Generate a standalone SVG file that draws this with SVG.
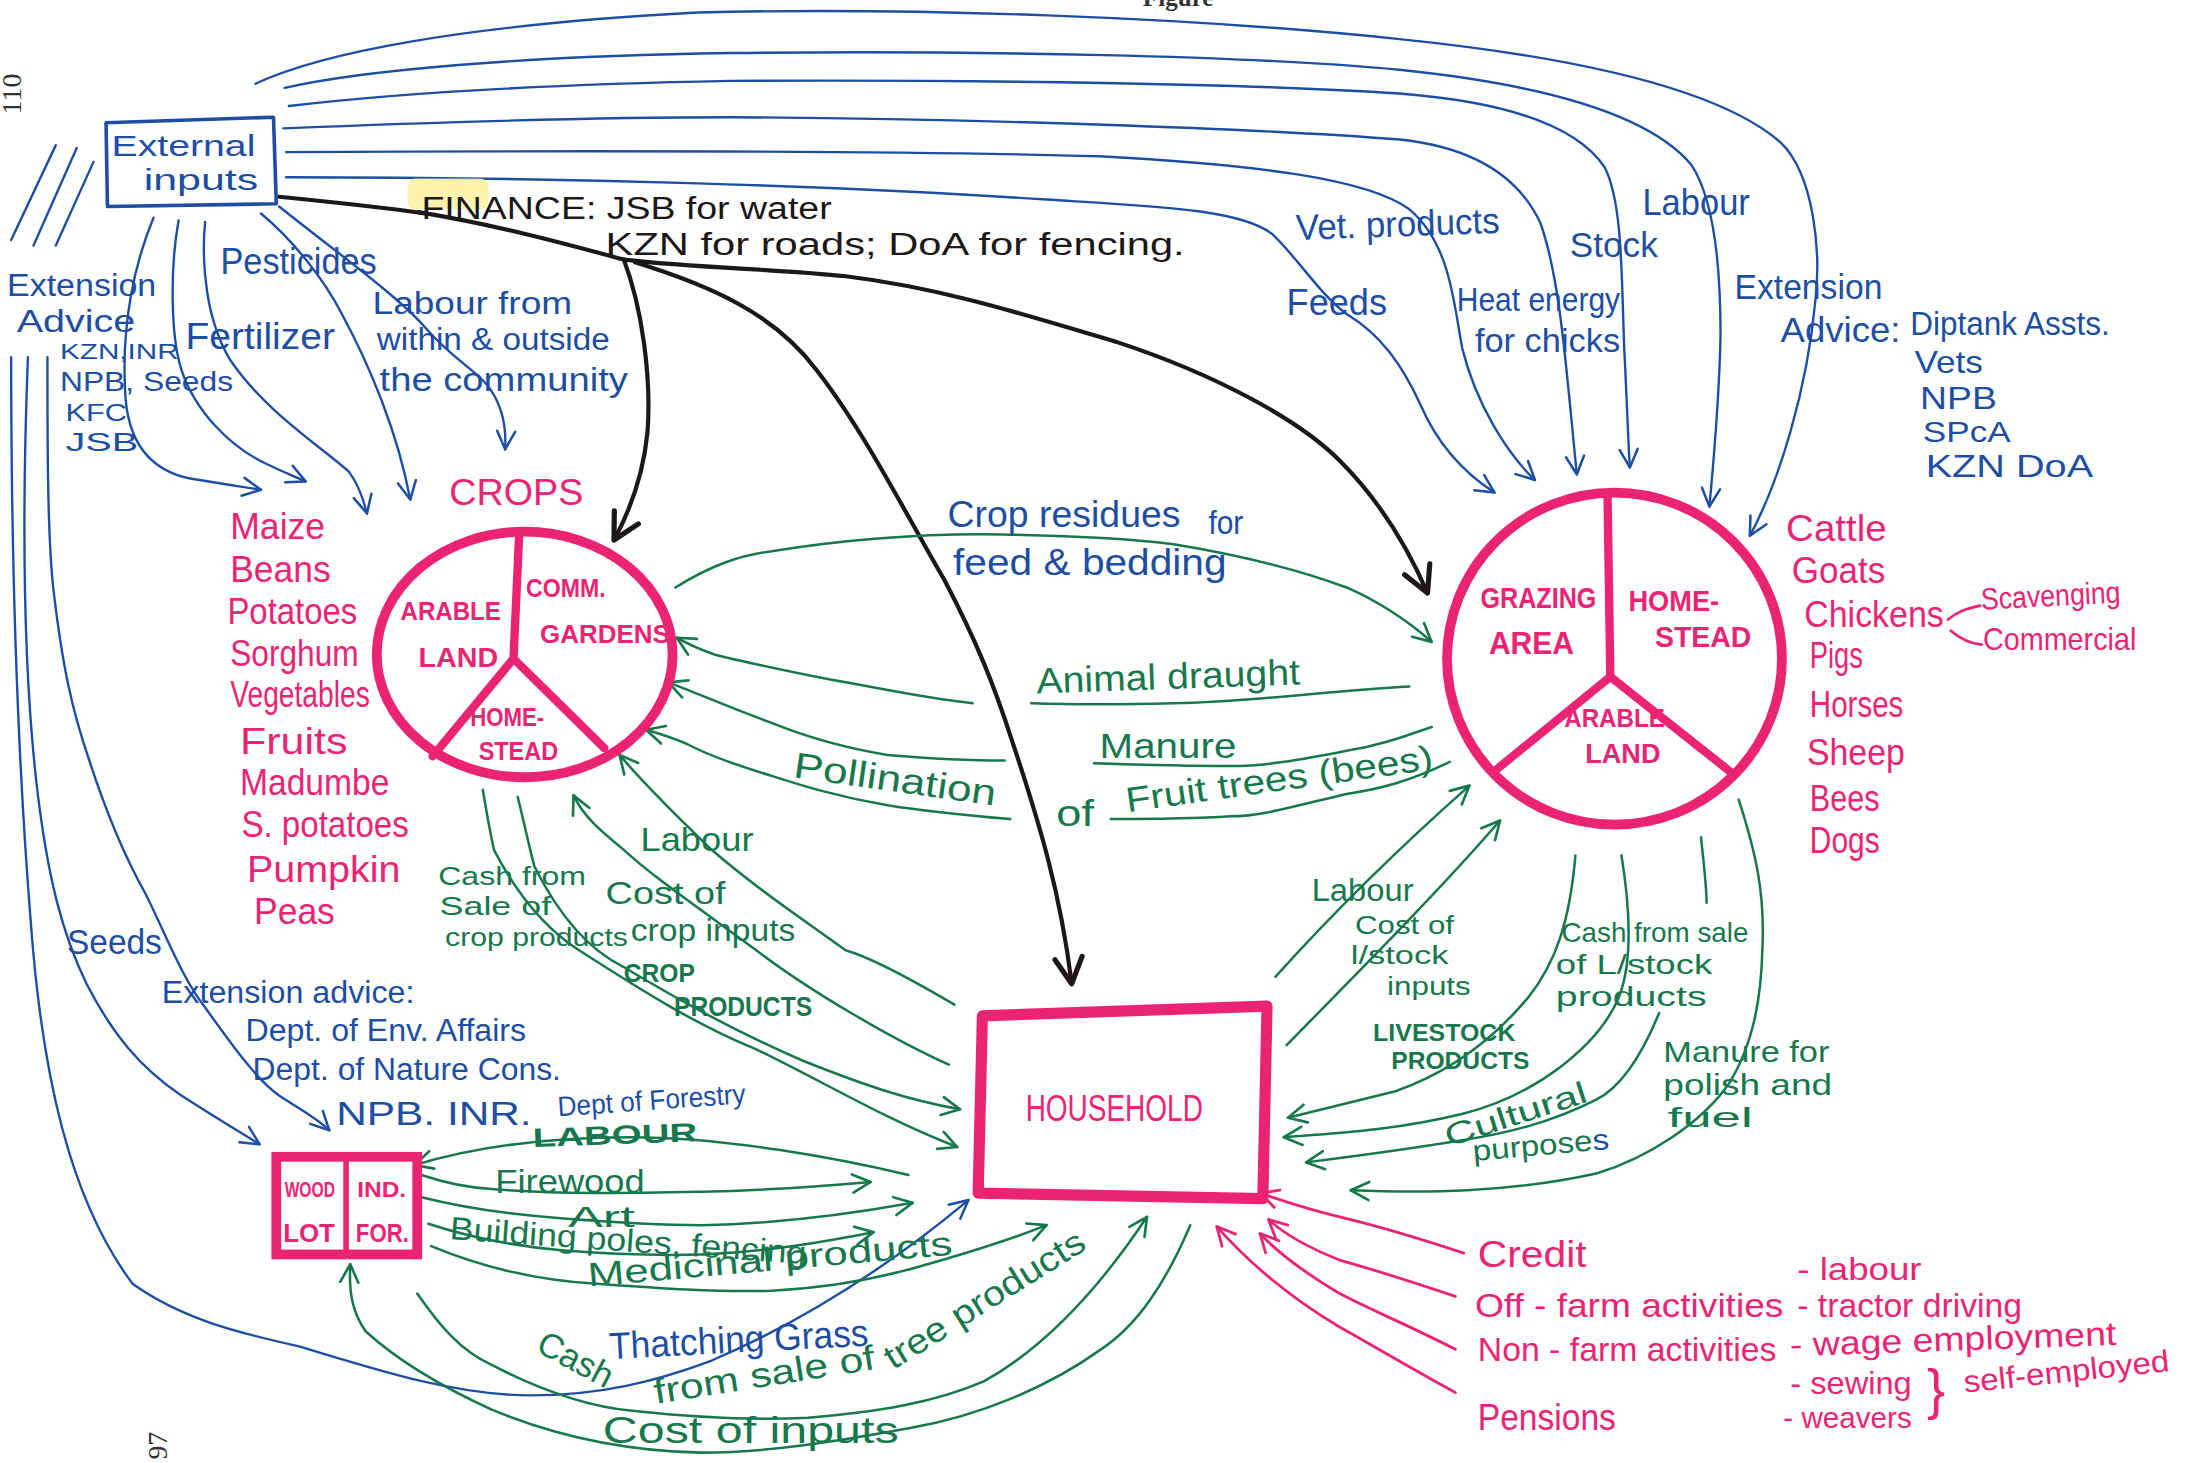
<svg xmlns="http://www.w3.org/2000/svg" width="2188" height="1463" viewBox="0 0 2188 1463">
<defs>
<style>
.cb,.cg,.ck,.cp{fill:none;stroke-linecap:round;stroke-linejoin:round}
.cb{stroke:#1d4ea3;stroke-width:1.7}
.cg{stroke:#17774d;stroke-width:1.8}
.ck{stroke:#1c1818;stroke-width:3}
.cp{stroke:#ea2473;stroke-width:2}
.ring{fill:none;stroke:#ea2473;stroke-width:7}
.spoke{stroke:#ea2473;stroke-width:6;stroke-linecap:round;fill:none}
text{font-family:"Liberation Sans",Arial,sans-serif}
.tb{fill:#1d4ea3}
.tg{fill:#17774d}
.tp{fill:#ea2473}
.tk{fill:#1c1818}
.bold{font-weight:bold}
.pg{font-family:"Liberation Serif","Times New Roman",serif;fill:#333}
</style>
<marker id="ab" viewBox="0 0 16 16" refX="14" refY="8" markerWidth="16" markerHeight="16" markerUnits="userSpaceOnUse" orient="auto"><path d="M1,1.5 L14,8 L1,14.5" fill="none" stroke="#1d4ea3" stroke-width="1.8" stroke-linecap="round" stroke-linejoin="round"/></marker>
<marker id="ag" viewBox="0 0 16 16" refX="14" refY="8" markerWidth="16" markerHeight="16" markerUnits="userSpaceOnUse" orient="auto"><path d="M1,1.5 L14,8 L1,14.5" fill="none" stroke="#17774d" stroke-width="1.9" stroke-linecap="round" stroke-linejoin="round"/></marker>
<marker id="ap" viewBox="0 0 16 16" refX="14" refY="8" markerWidth="16" markerHeight="16" markerUnits="userSpaceOnUse" orient="auto"><path d="M1,1.5 L14,8 L1,14.5" fill="none" stroke="#ea2473" stroke-width="2" stroke-linecap="round" stroke-linejoin="round"/></marker>
<marker id="ak" viewBox="0 0 22 22" refX="19" refY="11" markerWidth="24" markerHeight="24" markerUnits="userSpaceOnUse" orient="auto"><path d="M2,2 L19,11 L2,20" fill="none" stroke="#1c1818" stroke-width="3.4" stroke-linecap="round" stroke-linejoin="round"/></marker>
</defs>
<rect width="2188" height="1463" fill="#ffffff"/>
<g transform="scale(1.39541)" font-size="24">

<!-- page furniture -->
<text class="pg bold" x="819" y="4" font-size="18">Figure</text>
<text class="pg" transform="translate(15,82) rotate(-90)" font-size="20">110</text>
<text class="pg" transform="translate(120,1046) rotate(-90)" font-size="20">97</text>

<!-- ===== connectors ===== -->
<g id="connectors">
  <!-- external inputs to livestock (over the top) -->
  <path class="cb" marker-end="url(#ab)" d="M183,60 C230,38 330,18 500,9 C650,5 850,12 1003,28 C1120,40 1230,62 1276,102 C1300,125 1305,180 1301,215 C1295,280 1275,345 1254,384"/>
  <path class="cb" marker-end="url(#ab)" d="M204,63 C260,50 380,40 523,38 C700,36 900,40 1003,50 C1100,60 1180,80 1212,118 C1230,145 1233,200 1233,240 C1232,290 1228,330 1225,363"/>
  <path class="cb" marker-end="url(#ab)" d="M207,76 C300,65 420,60 523,58 C700,57 900,60 1003,67 C1080,73 1130,90 1150,120 C1163,145 1162,200 1164,250 C1166,290 1167,320 1168,335"/>
  <path class="cb" marker-end="url(#ab)" d="M203,92 C350,86 450,84 523,84 C700,85 900,92 1003,100 C1060,106 1090,130 1104,160 C1118,200 1122,260 1130,340"/>
  <path class="cb" marker-end="url(#ab)" d="M205,109 C400,108 650,108 788,112 C900,118 980,128 1010,150 C1040,175 1042,220 1048,250 C1058,290 1080,325 1100,344"/>
  <path class="cb" marker-end="url(#ab)" d="M205,127 C400,127 600,133 750,143 C830,148 890,150 912,168 C930,185 945,210 965,225 C990,240 1005,262 1018,290 C1030,318 1048,338 1071,353"/>

  <!-- external inputs to crops -->
  <path class="cb" marker-end="url(#ab)" d="M110,156 C98,185 86,230 90,286 C93,320 110,340 143,344 C160,347 175,349 187,351"/>
  <path class="cb" marker-end="url(#ab)" d="M128,158 C122,190 122,240 130,265 C140,295 165,320 190,332 C200,337 210,341 219,345"/>
  <path class="cb" marker-end="url(#ab)" d="M147,159 C144,190 148,230 165,258 C190,295 230,320 250,338 C256,346 260,356 263,368"/>
  <path class="cb" marker-end="url(#ab)" d="M187,153 C210,172 232,200 245,225 C265,262 285,310 294,358"/>
  <path class="cb" marker-end="url(#ab)" d="M200,148 C240,180 285,212 305,235 C325,258 345,268 352,280 C360,292 363,305 362,322"/>

  <!-- external inputs down the left side -->
  <path class="cb" d="M8,172 L40,104 M24,176 L55,106 M40,176 L67,116"/>
  <path class="cb" marker-end="url(#ab)" d="M8,256 C8,420 14,560 22,660 C30,770 50,860 95,920 C130,945 170,955 215,965 C280,985 330,1000 380,1000 C430,1000 470,990 510,975 C580,945 640,905 694,860"/>
  <path class="cb" marker-end="url(#ab)" d="M20,256 C16,360 16,470 26,560 C34,630 45,670 62,705 C80,740 100,765 130,785 C150,798 170,810 186,820"/>
  <path class="cb" marker-end="url(#ab)" d="M34,256 C34,320 34,380 38,420 C45,480 52,510 64,545 C77,585 90,615 104,640 C120,672 130,700 147,722 C167,750 185,775 200,785 C215,795 228,802 236,810"/>

  <!-- finance (black) -->
  <rect x="292" y="128" width="58" height="22" rx="6" fill="#fbf1a0" opacity="0.85"/>
  <path class="ck" stroke-width="6" d="M200,141 C240,145 270,148 305,153"/>
  <path class="ck" d="M300,152 C360,162 410,176 447,186"/>
  <path class="ck" marker-end="url(#ak)" d="M447,186 C500,192 560,193 606,198 C680,207 745,229 800,245 C870,268 930,300 960,330 C990,360 1010,395 1023,425"/>
  <path class="ck" marker-end="url(#ak)" d="M447,186 C460,220 467,270 464,310 C461,340 452,365 440,387"/>
  <path class="ck" marker-end="url(#ak)" d="M455,188 C510,205 555,225 585,265 C620,310 650,370 677,416 C700,460 712,490 725,530 C745,590 760,640 768,705"/>

  <!-- crops <-> livestock -->
  <path class="cg" marker-end="url(#ag)" d="M484,421 C510,405 530,398 553,395 C610,386 660,382 718,383 C770,384 810,386 841,390 C890,398 930,408 965,421 C990,432 1010,446 1026,460"/>
  <path class="cg" d="M1010,492 C950,495 900,503 841,504 C800,505 770,505 739,504"/>
  <path class="cg" marker-end="url(#ag)" d="M697,504 C660,500 630,493 595,487 C560,480 535,475 512,469 C500,465 492,461 485,457"/>
  <path class="cg" d="M1026,521 C1000,530 985,535 965,538 C930,545 905,549 882,549 C850,549 815,548 784,547"/>
  <path class="cg" marker-end="url(#ag)" d="M720,545 C690,545 660,543 636,541 C600,535 575,527 553,518 C525,508 500,497 479,489"/>
  <path class="cg" d="M1039,546 C1010,560 990,565 965,569 C930,577 905,585 882,585 C850,587 820,587 796,587"/>
  <path class="cg" marker-end="url(#ag)" d="M724,587 C690,584 660,581 636,577 C600,571 575,563 553,556 C520,546 505,540 492,533 C480,528 470,525 463,523"/>

  <!-- crops <-> household -->
  <path class="cg" marker-end="url(#ag)" d="M684,720 C650,700 620,685 606,681 C570,655 540,635 510,609 C485,585 460,560 444,541"/>
  <path class="cg" marker-end="url(#ag)" d="M680,763 C640,745 580,710 542,681 C500,650 470,630 447,609 C430,595 418,585 411,570"/>
  <path class="cg" marker-end="url(#ag)" d="M371,571 C378,600 380,610 383,621 C400,655 420,680 447,693 C500,725 540,745 575,760 C620,778 650,788 688,795"/>
  <path class="cg" marker-end="url(#ag)" d="M346,566 C350,590 352,600 354,609 C370,640 390,665 415,681 C460,710 500,735 542,752 C590,775 630,800 686,822"/>

  <!-- livestock <-> household -->
  <path class="cg" marker-end="url(#ag)" d="M914,700 C950,660 1000,610 1053,563"/>
  <path class="cg" marker-end="url(#ag)" d="M922,749 C970,700 1030,640 1075,588"/>
  <path class="cg" marker-end="url(#ag)" d="M1129,613 C1125,660 1115,690 1095,715 C1070,745 1040,768 1000,782 C960,792 940,797 923,801"/>
  <path class="cg" marker-end="url(#ag)" d="M1162,613 C1168,650 1170,690 1160,715 C1145,750 1100,785 1049,798 C1000,810 960,812 920,815"/>
  <path class="cg" d="M1219,600 C1221,620 1223,635 1223,647"/>
  <path class="cg" marker-end="url(#ag)" d="M1189,726 C1175,760 1160,780 1144,788 C1110,805 1080,812 1049,817 C1000,825 960,830 936,833"/>
  <path class="cg" marker-end="url(#ag)" d="M1246,573 C1258,610 1265,640 1263,680 C1262,720 1255,750 1240,775 C1220,805 1180,830 1144,841 C1080,855 1020,855 968,853"/>

  <!-- woodlot <-> household -->
  <path class="cg" marker-end="url(#ag)" d="M651,842 C600,830 520,815 452,815 C390,815 340,822 297,835"/>
  <path class="cg" marker-end="url(#ag)" d="M302,842 C320,848 335,851 352,852 C400,856 450,855 503,854 C550,853 590,850 624,847"/>
  <path class="cg" marker-end="url(#ag)" d="M302,858 C330,865 360,870 402,873 C440,876 470,878 503,878 C560,877 610,870 654,862"/>
  <path class="cg" marker-end="url(#ag)" d="M307,877 C340,888 370,893 402,896 C440,899 470,900 503,899 C550,897 590,890 626,883"/>
  <path class="cg" marker-end="url(#ag)" d="M309,893 C350,910 390,918 428,920 C470,923 510,926 553,925 C590,923 625,917 654,909 C690,899 720,890 750,878"/>
  <path class="cg" marker-end="url(#ag)" d="M299,927 C315,950 330,968 352,978 C385,995 420,1008 453,1011 C500,1016 540,1018 579,1016 C630,1012 670,1005 705,990 C750,965 790,920 822,872"/>
  <path class="cg" marker-end="url(#ag)" d="M853,878 C835,920 815,950 789,967 C750,995 700,1015 654,1023 C600,1033 550,1041 503,1041 C450,1040 400,1030 352,1010 C315,993 285,975 262,954 C252,940 250,925 251,906"/>

  <!-- off-farm income to household -->
  <path class="cp" marker-end="url(#ap)" d="M1049,898 C1010,885 985,878 960,872 C935,866 918,860 903,855"/>
  <path class="cp" marker-end="url(#ap)" d="M1043,929 C1010,918 985,910 960,903 C935,893 920,884 909,874"/>
  <path class="cp" marker-end="url(#ap)" d="M1043,967 C1010,950 985,940 960,927 C935,912 915,897 903,884"/>
  <path class="cp" marker-end="url(#ap)" d="M1043,998 C1010,980 985,965 960,951 C925,930 895,905 872,879"/>

  <!-- chickens brace -->
  <path class="cp" d="M1396,444 C1403,438 1410,436 1419,434 M1398,452 C1405,458 1411,461 1420,462"/>
</g>

<!-- ===== nodes ===== -->
<g id="external-inputs">
  <path d="M76,88 L196,84 L198,146 L77,148 Z" fill="none" stroke="#1d4ea3" stroke-width="2.6" stroke-linejoin="round"/>
  <text class="tb" x="80" y="112" font-size="21" textLength="103" lengthAdjust="spacingAndGlyphs">External</text>
  <text class="tb" x="103" y="136" font-size="21" textLength="82" lengthAdjust="spacingAndGlyphs">inputs</text>
</g>

<g id="crops">
  <text class="tp" x="322" y="362" font-size="27" textLength="96" lengthAdjust="spacingAndGlyphs">CROPS</text>
  <ellipse class="ring" cx="376" cy="469" rx="106" ry="88"/>
  <path class="spoke" d="M372,384 L368,472 M368,472 L310,542 M368,472 L433,536"/>
  <g class="tp bold">
    <text x="287" y="444" font-size="19" textLength="72" lengthAdjust="spacingAndGlyphs">ARABLE</text>
    <text x="300" y="478" font-size="20" textLength="57" lengthAdjust="spacingAndGlyphs">LAND</text>
    <text x="377" y="428" font-size="19" textLength="57" lengthAdjust="spacingAndGlyphs">COMM.</text>
    <text x="387" y="461" font-size="19" textLength="93" lengthAdjust="spacingAndGlyphs">GARDENS</text>
    <text x="337" y="520" font-size="18" textLength="53" lengthAdjust="spacingAndGlyphs">HOME-</text>
    <text x="343" y="545" font-size="18" textLength="57" lengthAdjust="spacingAndGlyphs">STEAD</text>
  </g>
  <g class="tp" font-size="26">
    <text x="165" y="386" textLength="68" lengthAdjust="spacingAndGlyphs">Maize</text>
    <text x="165" y="417" textLength="72" lengthAdjust="spacingAndGlyphs">Beans</text>
    <text x="163" y="447" textLength="93" lengthAdjust="spacingAndGlyphs">Potatoes</text>
    <text x="165" y="477" textLength="92" lengthAdjust="spacingAndGlyphs">Sorghum</text>
    <text x="165" y="507" textLength="100" lengthAdjust="spacingAndGlyphs">Vegetables</text>
    <text x="172" y="540" textLength="77" lengthAdjust="spacingAndGlyphs">Fruits</text>
    <text x="172" y="570" textLength="107" lengthAdjust="spacingAndGlyphs">Madumbe</text>
    <text x="173" y="600" textLength="120" lengthAdjust="spacingAndGlyphs">S. potatoes</text>
    <text x="177" y="632" textLength="110" lengthAdjust="spacingAndGlyphs">Pumpkin</text>
    <text x="182" y="662" textLength="58" lengthAdjust="spacingAndGlyphs">Peas</text>
  </g>
</g>

<g id="livestock">
  <ellipse class="ring" cx="1157" cy="472" rx="120" ry="119"/>
  <path class="spoke" d="M1152,354 L1154,485 M1154,485 L1073,551 M1154,485 L1240,553"/>
  <g class="tp bold">
    <text x="1061" y="436" font-size="21" textLength="83" lengthAdjust="spacingAndGlyphs">GRAZING</text>
    <text x="1067" y="469" font-size="22" textLength="61" lengthAdjust="spacingAndGlyphs">AREA</text>
    <text x="1167" y="438" font-size="21" textLength="65" lengthAdjust="spacingAndGlyphs">HOME-</text>
    <text x="1186" y="464" font-size="21" textLength="69" lengthAdjust="spacingAndGlyphs">STEAD</text>
    <text x="1121" y="521" font-size="19" textLength="72" lengthAdjust="spacingAndGlyphs">ARABLE</text>
    <text x="1136" y="547" font-size="20" textLength="54" lengthAdjust="spacingAndGlyphs">LAND</text>
  </g>
  <g class="tp" font-size="26">
    <text x="1280" y="388" textLength="72" lengthAdjust="spacingAndGlyphs">Cattle</text>
    <text x="1284" y="418" textLength="67" lengthAdjust="spacingAndGlyphs">Goats</text>
    <text x="1293" y="449" textLength="100" lengthAdjust="spacingAndGlyphs">Chickens</text>
    <text x="1297" y="479" textLength="38" lengthAdjust="spacingAndGlyphs">Pigs</text>
    <text x="1297" y="514" textLength="67" lengthAdjust="spacingAndGlyphs">Horses</text>
    <text x="1295" y="548" textLength="70" lengthAdjust="spacingAndGlyphs">Sheep</text>
    <text x="1297" y="581" textLength="50" lengthAdjust="spacingAndGlyphs">Bees</text>
    <text x="1297" y="611" textLength="50" lengthAdjust="spacingAndGlyphs">Dogs</text>
  </g>
  <text class="tp" x="1420" y="437" font-size="22" textLength="100" lengthAdjust="spacingAndGlyphs" transform="rotate(-3 1420 437)">Scavenging</text>
  <text class="tp" x="1421" y="466" font-size="22" textLength="110" lengthAdjust="spacingAndGlyphs">Commercial</text>
</g>

<g id="household">
  <path d="M704,728 L908,721 L905,859 L701,855 Z" fill="none" stroke="#ea2473" stroke-width="8" stroke-linejoin="round"/>
  <text class="tp" x="735" y="803" font-size="26" textLength="127" lengthAdjust="spacingAndGlyphs">HOUSEHOLD</text>
</g>

<g id="woodlot">
  <rect x="198" y="829" width="101" height="70" fill="none" stroke="#ea2473" stroke-width="7"/>
  <path d="M248,830 L248,898" stroke="#ea2473" stroke-width="4"/>
  <g class="tp bold">
    <text x="204" y="858" font-size="16" textLength="36" lengthAdjust="spacingAndGlyphs">WOOD</text>
    <text x="203" y="890" font-size="19" textLength="37" lengthAdjust="spacingAndGlyphs">LOT</text>
    <text x="256" y="858" font-size="16" textLength="35" lengthAdjust="spacingAndGlyphs">IND.</text>
    <text x="255" y="890" font-size="19" textLength="38" lengthAdjust="spacingAndGlyphs">FOR.</text>
  </g>
</g>

<!-- ===== flow labels ===== -->
<g id="labels-inputs" class="tb">
  <text x="5" y="212" font-size="23" textLength="107" lengthAdjust="spacingAndGlyphs">Extension</text>
  <text x="12" y="238" font-size="23" textLength="85" lengthAdjust="spacingAndGlyphs">Advice</text>
  <text x="43" y="257" font-size="16" textLength="85" lengthAdjust="spacingAndGlyphs">KZN,INR</text>
  <text x="133" y="250" font-size="26" textLength="107" lengthAdjust="spacingAndGlyphs">Fertilizer</text>
  <text x="43" y="280" font-size="20" textLength="124" lengthAdjust="spacingAndGlyphs">NPB, Seeds</text>
  <text x="47" y="302" font-size="17" textLength="44" lengthAdjust="spacingAndGlyphs">KFC</text>
  <text x="47" y="323" font-size="18" textLength="52" lengthAdjust="spacingAndGlyphs">JSB</text>
  <text x="158" y="196" font-size="26" textLength="112" lengthAdjust="spacingAndGlyphs">Pesticides</text>
  <text x="267" y="225" font-size="23" textLength="143" lengthAdjust="spacingAndGlyphs">Labour from</text>
  <text x="270" y="251" font-size="23" textLength="167" lengthAdjust="spacingAndGlyphs">within &amp; outside</text>
  <text x="272" y="280" font-size="24" textLength="178" lengthAdjust="spacingAndGlyphs">the community</text>
  <text x="929" y="172" font-size="26" textLength="146" lengthAdjust="spacingAndGlyphs" transform="rotate(-2 929 172)">Vet. products</text>
  <text x="922" y="226" font-size="26" textLength="72" lengthAdjust="spacingAndGlyphs">Feeds</text>
  <text x="1044" y="223" font-size="24" textLength="117" lengthAdjust="spacingAndGlyphs">Heat energy</text>
  <text x="1057" y="252" font-size="24" textLength="104" lengthAdjust="spacingAndGlyphs">for chicks</text>
  <text x="1125" y="184" font-size="25" textLength="63" lengthAdjust="spacingAndGlyphs">Stock</text>
  <text x="1177" y="154" font-size="26" textLength="77" lengthAdjust="spacingAndGlyphs">Labour</text>
  <text x="1243" y="214" font-size="25" textLength="106" lengthAdjust="spacingAndGlyphs">Extension</text>
  <text x="1276" y="245" font-size="25" textLength="86" lengthAdjust="spacingAndGlyphs">Advice:</text>
  <text x="1369" y="240" font-size="24" textLength="143" lengthAdjust="spacingAndGlyphs">Diptank Assts.</text>
  <text x="1372" y="267" font-size="22" textLength="49" lengthAdjust="spacingAndGlyphs">Vets</text>
  <text x="1376" y="293" font-size="22" textLength="55" lengthAdjust="spacingAndGlyphs">NPB</text>
  <text x="1378" y="317" font-size="21" textLength="63" lengthAdjust="spacingAndGlyphs">SPcA</text>
  <text x="1380" y="342" font-size="22" textLength="120" lengthAdjust="spacingAndGlyphs">KZN DoA</text>
  <text x="679" y="378" font-size="26" textLength="167" lengthAdjust="spacingAndGlyphs">Crop residues</text>
  <text x="866" y="383" font-size="24" textLength="25" lengthAdjust="spacingAndGlyphs">for</text>
  <text x="683" y="412" font-size="26" textLength="196" lengthAdjust="spacingAndGlyphs">feed &amp; bedding</text>
  <text x="48" y="684" font-size="25" textLength="68" lengthAdjust="spacingAndGlyphs">Seeds</text>
  <text x="116" y="719" font-size="23" textLength="181" lengthAdjust="spacingAndGlyphs">Extension advice:</text>
  <text x="176" y="746" font-size="23" textLength="201" lengthAdjust="spacingAndGlyphs">Dept. of Env. Affairs</text>
  <text x="181" y="774" font-size="23" textLength="221" lengthAdjust="spacingAndGlyphs">Dept. of Nature Cons.</text>
  <text x="241" y="806" font-size="24" textLength="140" lengthAdjust="spacingAndGlyphs">NPB. INR.</text>
  <text x="400" y="800" font-size="20" textLength="135" lengthAdjust="spacingAndGlyphs" transform="rotate(-4 400 800)">Dept of Forestry</text>
  <text x="437" y="974" font-size="27" textLength="186" lengthAdjust="spacingAndGlyphs" transform="rotate(-3 437 974)">Thatching Grass</text>
</g>

<g id="labels-finance" class="tk">
  <text x="302" y="157" font-size="23" textLength="294" lengthAdjust="spacingAndGlyphs">FINANCE: JSB for water</text>
  <text x="434" y="183" font-size="23" textLength="415" lengthAdjust="spacingAndGlyphs">KZN for roads; DoA for fencing.</text>
</g>

<g id="labels-flows" class="tg">
  <text x="743" y="497" font-size="26" textLength="189" lengthAdjust="spacingAndGlyphs" transform="rotate(-2 743 497)">Animal draught</text>
  <text x="788" y="543" font-size="25" textLength="98" lengthAdjust="spacingAndGlyphs">Manure</text>
  <text x="568" y="557" font-size="26" textLength="146" lengthAdjust="spacingAndGlyphs" transform="rotate(8 568 557)">Pollination</text>
  <text x="757" y="592" font-size="26" textLength="27" lengthAdjust="spacingAndGlyphs">of</text>
  <text x="808" y="582" font-size="25" textLength="222" lengthAdjust="spacingAndGlyphs" transform="rotate(-8 808 582)">Fruit trees (bees)</text>
  <text x="459" y="610" font-size="24" textLength="81" lengthAdjust="spacingAndGlyphs">Labour</text>
  <text x="314" y="634" font-size="19" textLength="106" lengthAdjust="spacingAndGlyphs">Cash from</text>
  <text x="315" y="656" font-size="19" textLength="80" lengthAdjust="spacingAndGlyphs">Sale of</text>
  <text x="319" y="678" font-size="19" textLength="131" lengthAdjust="spacingAndGlyphs">crop products</text>
  <text x="434" y="648" font-size="23" textLength="86" lengthAdjust="spacingAndGlyphs">Cost of</text>
  <text x="452" y="674" font-size="23" textLength="118" lengthAdjust="spacingAndGlyphs">crop inputs</text>
  <text x="447" y="704" font-size="19" class="bold" textLength="51" lengthAdjust="spacingAndGlyphs">CROP</text>
  <text x="483" y="728" font-size="20" class="bold" textLength="99" lengthAdjust="spacingAndGlyphs">PRODUCTS</text>
  <text x="940" y="646" font-size="23" textLength="73" lengthAdjust="spacingAndGlyphs">Labour</text>
  <text x="971" y="669" font-size="19" textLength="71" lengthAdjust="spacingAndGlyphs">Cost of</text>
  <text x="968" y="691" font-size="19" textLength="70" lengthAdjust="spacingAndGlyphs">l/stock</text>
  <text x="994" y="713" font-size="19" textLength="60" lengthAdjust="spacingAndGlyphs">inputs</text>
  <text x="984" y="746" font-size="17" class="bold" textLength="102" lengthAdjust="spacingAndGlyphs">LIVESTOCK</text>
  <text x="997" y="766" font-size="17" class="bold" textLength="99" lengthAdjust="spacingAndGlyphs">PRODUCTS</text>
  <text x="1119" y="675" font-size="20" textLength="134" lengthAdjust="spacingAndGlyphs">Cash from sale</text>
  <text x="1115" y="698" font-size="20" textLength="112" lengthAdjust="spacingAndGlyphs">of L/stock</text>
  <text x="1115" y="721" font-size="20" textLength="108" lengthAdjust="spacingAndGlyphs">products</text>
  <text x="1192" y="761" font-size="21" textLength="119" lengthAdjust="spacingAndGlyphs">Manure for</text>
  <text x="1192" y="785" font-size="21" textLength="121" lengthAdjust="spacingAndGlyphs">polish and</text>
  <text x="1195" y="808" font-size="20" textLength="61" lengthAdjust="spacingAndGlyphs">fuel</text>
  <text x="1038" y="822" font-size="22" textLength="106" lengthAdjust="spacingAndGlyphs" transform="rotate(-18 1038 822)">Cultural</text>
  <text x="1056" y="832" font-size="21" textLength="98" lengthAdjust="spacingAndGlyphs" transform="rotate(-5 1056 832)">purpose<tspan class="tb">s</tspan></text>
  <text x="382" y="822" font-size="19" class="bold" textLength="118" lengthAdjust="spacingAndGlyphs" transform="rotate(-2 382 822)">LABOUR</text>
  <text x="355" y="855" font-size="24" textLength="107" lengthAdjust="spacingAndGlyphs">Firewood</text>
  <text x="407" y="879" font-size="21" textLength="48" lengthAdjust="spacingAndGlyphs">Art</text>
  <text x="322" y="888" font-size="23" textLength="256" lengthAdjust="spacingAndGlyphs" transform="rotate(4 322 888)">Building poles, fencing</text>
  <text x="422" y="922" font-size="24" textLength="262" lengthAdjust="spacingAndGlyphs" transform="rotate(-5 422 922)">Medicinal products</text>
  <text x="383" y="968" font-size="25" textLength="58" lengthAdjust="spacingAndGlyphs" transform="rotate(28 383 968)">Cash</text>
  <text x="470" y="1006" font-size="25" textLength="160" lengthAdjust="spacingAndGlyphs" transform="rotate(-9 470 1006)">from sale of</text>
  <text x="640" y="982" font-size="25" textLength="165" lengthAdjust="spacingAndGlyphs" transform="rotate(-32 640 982)">tree products</text>
  <text x="432" y="1034" font-size="26" textLength="212" lengthAdjust="spacingAndGlyphs">Cost of inputs</text>
</g>

<g id="labels-income" class="tp">
  <text x="1059" y="908" font-size="26" textLength="78" lengthAdjust="spacingAndGlyphs">Credit</text>
  <text x="1288" y="917" font-size="23" textLength="89" lengthAdjust="spacingAndGlyphs">- labour</text>
  <text x="1057" y="944" font-size="24" textLength="221" lengthAdjust="spacingAndGlyphs">Off - farm activities</text>
  <text x="1288" y="944" font-size="24" textLength="161" lengthAdjust="spacingAndGlyphs">- tractor driving</text>
  <text x="1059" y="975" font-size="24" textLength="214" lengthAdjust="spacingAndGlyphs">Non - farm activities</text>
  <text x="1283" y="972" font-size="24" textLength="234" lengthAdjust="spacingAndGlyphs" transform="rotate(-2 1283 972)">- wage employment</text>
  <text x="1283" y="999" font-size="22" textLength="87" lengthAdjust="spacingAndGlyphs">- sewing</text>
  <text x="1381" y="1009" font-size="40" textLength="13" lengthAdjust="spacingAndGlyphs">}</text>
  <text x="1408" y="998" font-size="22" textLength="148" lengthAdjust="spacingAndGlyphs" transform="rotate(-6 1408 998)">self-employed</text>
  <text x="1278" y="1023" font-size="21" textLength="92" lengthAdjust="spacingAndGlyphs">- weavers</text>
  <text x="1059" y="1025" font-size="26" textLength="99" lengthAdjust="spacingAndGlyphs">Pensions</text>
</g>
</g>
</svg>
